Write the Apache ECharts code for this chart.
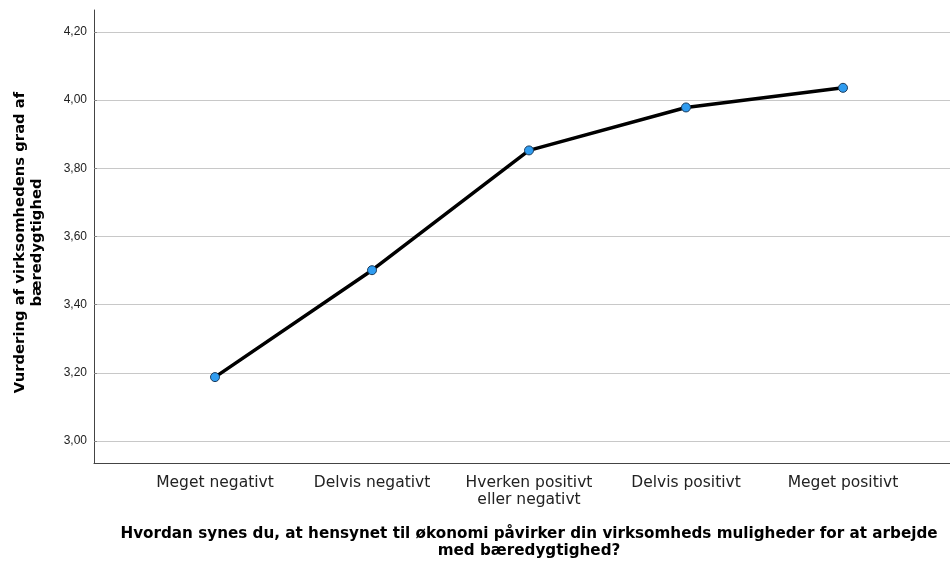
<!DOCTYPE html>
<html>
<head>
<meta charset="utf-8">
<script src="https://cdn.jsdelivr.net/npm/echarts@6/dist/echarts.min.js"></script>
<style>
  html, body { margin: 0; padding: 0; background: #fff; }
  #main { width: 950px; height: 565px; }
</style>
</head>
<body>
<div id="main"></div>
<script>
// data
var categories = ['Meget negativt', 'Delvis negativt', 'Hverken positivt\neller negativt', 'Delvis positivt', 'Meget positivt'];
var means = [3.18, 3.496, 3.85, 3.977, 4.035];
var yMin = 3.0, yMax = 4.2, yStep = 0.2;
var yTitle = 'Vurdering af virksomhedens grad af\nbæredygtighed';
var xTitle = 'Hvordan synes du, at hensynet til økonomi påvirker din virksomheds muligheder for at arbejde\nmed bæredygtighed?';

var font = '"Liberation Sans", Arial, sans-serif';
var wideFont = '"DejaVu Sans", sans-serif';
var myChart = echarts.init(document.getElementById('main'));

var option = {
    animation: false,
    backgroundColor: '#fff',
    grid: [
        // frame (axis lines)
        {left: 94, right: 0, top: 10, bottom: 102},
        // tick labels + grid lines
        {left: 94, right: 0, top: 32, bottom: 124},
        // data, categories inset like the original
        {left: 136.5, right: 28.5, top: 32, bottom: 124}
    ],
    xAxis: [
        {
            gridIndex: 0, type: 'value', min: 0, max: 1,
            axisLine: {show: true, lineStyle: {color: '#444', width: 1}},
            axisTick: {show: false}, axisLabel: {show: false}, splitLine: {show: false}
        },
        {gridIndex: 1, type: 'value', min: 0, max: 1, show: false},
        {
            gridIndex: 2, type: 'category', data: categories, boundaryGap: true,
            offset: 22,
            axisLine: {show: false}, axisTick: {show: false},
            axisLabel: {
                interval: 0, margin: 14, color: '#222', fontFamily: wideFont,
                fontSize: 15.5, lineHeight: 17
            },
            name: xTitle, nameLocation: 'middle', nameGap: 66,
            nameTextStyle: {
                color: '#000', fontFamily: wideFont, fontWeight: 'bold',
                fontSize: 15.2, lineHeight: 17
            }
        }
    ],
    yAxis: [
        {
            gridIndex: 0, type: 'value', min: 0, max: 1,
            axisLine: {show: true, lineStyle: {color: '#444', width: 1}},
            axisTick: {show: false}, axisLabel: {show: false}, splitLine: {show: false},
            name: yTitle, nameLocation: 'middle', nameGap: 48, nameRotate: 90,
            nameTextStyle: {
                color: '#000', fontFamily: wideFont, fontWeight: 'bold',
                fontSize: 14.8, lineHeight: 17, padding: [0, 12, 0, 0]
            }
        },
        {
            gridIndex: 1, type: 'value', min: yMin, max: yMax, interval: yStep,
            axisLine: {show: false},
            axisTick: {show: true, length: 3, inside: true, lineStyle: {color: '#888'}},
            axisLabel: {
                color: '#222', fontFamily: font, fontSize: 12, margin: 7,
                formatter: function (v) { return v.toFixed(2).replace('.', ','); }
            },
            splitLine: {show: true, lineStyle: {color: '#c8c8c8', width: 1}}
        },
        {gridIndex: 2, type: 'value', min: yMin, max: yMax, show: false}
    ],
    series: [{
        type: 'line',
        xAxisIndex: 2,
        yAxisIndex: 2,
        data: means,
        symbol: 'circle',
        symbolSize: 9,
        lineStyle: {color: '#000', width: 3.5},
        itemStyle: {color: '#2f9cf0', borderColor: '#1c3c5c', borderWidth: 1},
        z: 5
    }]
};
myChart.setOption(option);
</script>
</body>
</html>
